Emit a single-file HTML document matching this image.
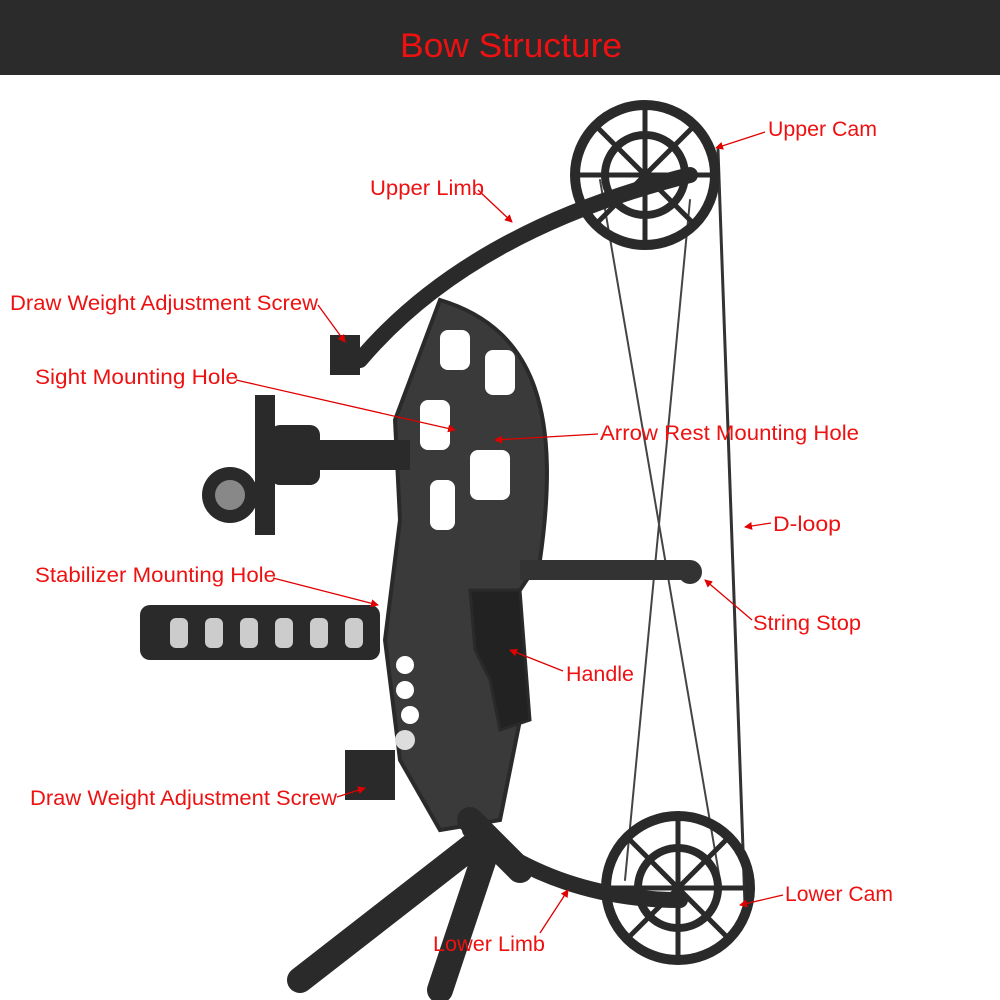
<!DOCTYPE html>
<html><head><meta charset="utf-8"><style>
html,body{margin:0;padding:0;background:#fff;}
svg{display:block;}
text{font-family:"Liberation Sans",sans-serif;}
</style></head><body>
<svg width="1000" height="1000" viewBox="0 0 1000 1000" xmlns="http://www.w3.org/2000/svg">
<defs>
<marker id="ar" markerWidth="8" markerHeight="8" refX="7" refY="4" orient="auto" markerUnits="userSpaceOnUse">
<path d="M0,0 L8,4 L0,8 z" fill="#e00000"/></marker>
</defs>
<rect x="0" y="0" width="1000" height="75" fill="#2b2b2b"/>
<text x="400" y="57" font-size="34" fill="#ee1111" textLength="222" lengthAdjust="spacingAndGlyphs">Bow Structure</text>

<g fill="none" stroke="#2a2a2a" stroke-linecap="round">
 <line x1="718" y1="150" x2="745" y2="905" stroke="#333" stroke-width="3"/>
 <line x1="600" y1="180" x2="720" y2="880" stroke="#444" stroke-width="2"/>
 <line x1="690" y1="200" x2="625" y2="880" stroke="#444" stroke-width="2"/>
 <circle cx="645" cy="175" r="70" stroke-width="10"/>
 <circle cx="645" cy="175" r="40" stroke-width="8"/>
 <path d="M575,175 L715,175 M645,105 L645,245 M595,125 L695,225 M695,125 L595,225" stroke-width="5"/>
 <circle cx="678" cy="888" r="72" stroke-width="10"/>
 <circle cx="678" cy="888" r="40" stroke-width="8"/>
 <path d="M606,888 L750,888 M678,816 L678,960 M628,838 L728,938 M728,838 L628,938" stroke-width="5"/>
 <path d="M360,360 Q470,230 690,175" stroke-width="16"/>
 <path d="M470,830 Q560,900 680,900" stroke-width="16"/>
 <path d="M440,300 C540,330 560,420 540,560 L500,620 L520,720 L500,820 L440,830 L400,760 L385,640 L400,520 L395,420 Z" fill="#3a3a3a" stroke-width="4"/>
 <g fill="#fff" stroke="none">
  <rect x="440" y="330" width="30" height="40" rx="8"/>
  <rect x="485" y="350" width="30" height="45" rx="8"/>
  <rect x="420" y="400" width="30" height="50" rx="8"/>
  <rect x="470" y="450" width="40" height="50" rx="8"/>
  <rect x="430" y="480" width="25" height="50" rx="8"/>
  <circle cx="405" cy="665" r="9"/><circle cx="405" cy="690" r="9"/><circle cx="410" cy="715" r="9"/>
  <circle cx="405" cy="740" r="10" fill="#ddd"/>
 </g>
 <path d="M470,590 L520,590 L530,720 L500,730 L490,680 L475,650 Z" fill="#222" stroke-width="3"/>
 <rect x="520" y="560" width="170" height="20" fill="#333" stroke="none"/>
 <circle cx="690" cy="572" r="12" fill="#333" stroke="none"/>
 <rect x="140" y="605" width="240" height="55" rx="10" fill="#2a2a2a" stroke="none"/>
 <g fill="#ccc" stroke="none">
  <rect x="170" y="618" width="18" height="30" rx="6"/><rect x="205" y="618" width="18" height="30" rx="6"/>
  <rect x="240" y="618" width="18" height="30" rx="6"/><rect x="275" y="618" width="18" height="30" rx="6"/>
  <rect x="310" y="618" width="18" height="30" rx="6"/><rect x="345" y="618" width="18" height="30" rx="6"/>
 </g>
 <rect x="300" y="440" width="110" height="30" fill="#2a2a2a" stroke="none"/>
 <rect x="255" y="395" width="20" height="140" fill="#2a2a2a" stroke="none"/>
 <circle cx="230" cy="495" r="28" fill="#2a2a2a" stroke="none"/>
 <circle cx="230" cy="495" r="15" fill="#888" stroke="none"/>
 <rect x="270" y="425" width="50" height="60" rx="10" fill="#2a2a2a" stroke="none"/>
 <rect x="330" y="335" width="30" height="40" fill="#2a2a2a" stroke="none"/>
 <rect x="345" y="750" width="50" height="50" fill="#2a2a2a" stroke="none"/>
 <path d="M480,840 L300,980 M490,840 L440,990 M470,820 L520,870" stroke-width="26" stroke="#2a2a2a"/>
</g>

<g stroke="#e00000" stroke-width="1.3" fill="none" marker-end="url(#ar)">
 <line x1="765" y1="132" x2="716" y2="148"/>
 <line x1="478" y1="190" x2="512" y2="222"/>
 <line x1="318" y1="305" x2="345" y2="342"/>
 <line x1="236" y1="380" x2="455" y2="430"/>
 <line x1="598" y1="434" x2="495" y2="440"/>
 <line x1="771" y1="523" x2="745" y2="527"/>
 <line x1="273" y1="578" x2="378" y2="605"/>
 <line x1="752" y1="620" x2="705" y2="580"/>
 <line x1="563" y1="671" x2="510" y2="650"/>
 <line x1="337" y1="797" x2="365" y2="788"/>
 <line x1="783" y1="895" x2="740" y2="905"/>
 <line x1="540" y1="933" x2="568" y2="890"/>
</g>

<g fill="#ee1111" font-size="21" lengthAdjust="spacingAndGlyphs">
 <text x="768" y="136" textLength="109" lengthAdjust="spacingAndGlyphs">Upper Cam</text>
 <text x="370" y="195" textLength="114" lengthAdjust="spacingAndGlyphs">Upper Limb</text>
 <text x="10" y="310" textLength="308" lengthAdjust="spacingAndGlyphs">Draw Weight Adjustment Screw</text>
 <text x="35" y="384" textLength="203" lengthAdjust="spacingAndGlyphs">Sight Mounting Hole</text>
 <text x="600" y="440" textLength="259" lengthAdjust="spacingAndGlyphs">Arrow Rest Mounting Hole</text>
 <text x="773" y="531" textLength="68" lengthAdjust="spacingAndGlyphs">D-loop</text>
 <text x="35" y="582" textLength="241" lengthAdjust="spacingAndGlyphs">Stabilizer Mounting Hole</text>
 <text x="753" y="630" textLength="108" lengthAdjust="spacingAndGlyphs">String Stop</text>
 <text x="566" y="681" textLength="68" lengthAdjust="spacingAndGlyphs">Handle</text>
 <text x="30" y="805" textLength="307" lengthAdjust="spacingAndGlyphs">Draw Weight Adjustment Screw</text>
 <text x="785" y="901" textLength="108" lengthAdjust="spacingAndGlyphs">Lower Cam</text>
 <text x="433" y="951" textLength="112" lengthAdjust="spacingAndGlyphs">Lower Limb</text>
</g>
</svg>
</body></html>
